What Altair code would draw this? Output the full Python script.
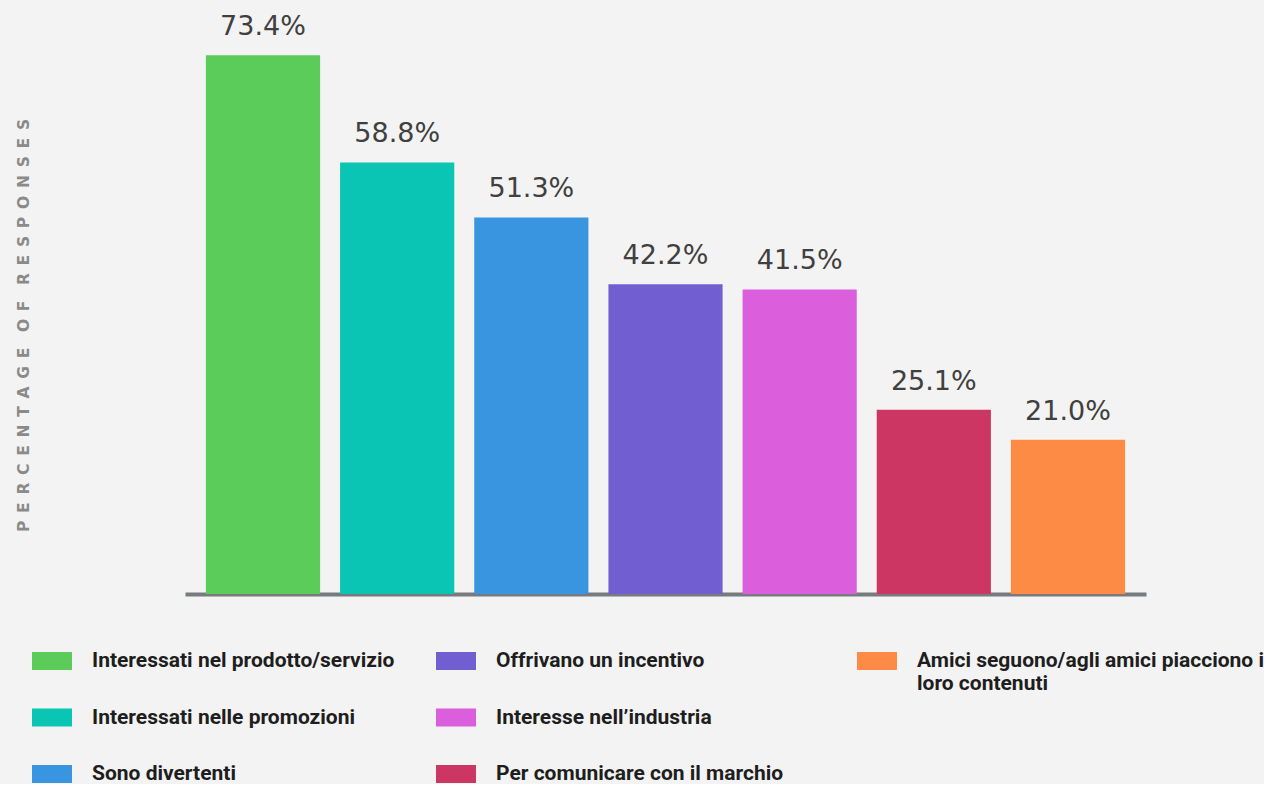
import altair as alt
import pandas as pd

# ---- data ----
categories = [
    "Interessati nel prodotto/servizio",
    "Interessati nelle promozioni",
    "Sono divertenti",
    "Offrivano un incentivo",
    "Interesse nell\u2019industria",
    "Per comunicare con il marchio",
    "Amici seguono/agli amici piacciono i loro contenuti",
]
values = [73.4, 58.8, 51.3, 42.2, 41.5, 25.1, 21.0]
colors = ["#5bcb5a", "#0bc5b4", "#3a95e0", "#715fd1", "#db5fdd", "#cc3663", "#fd8b45"]
legend_labels = [
    "Interessati nel prodotto/servizio",
    "Interessati nelle promozioni",
    "Sono divertenti",
    "Offrivano un incentivo",
    "Interesse nell\u2019industria",
    "Per comunicare con il marchio",
    "Amici seguono/agli amici piacciono i\nloro contenuti",
]
y_title = "PERCENTAGE OF RESPONSES"

bars_df = pd.DataFrame({"category": categories, "value": values})
legend_df = pd.DataFrame({
    "category": categories,
    "label": legend_labels,
    "col": [i // 3 for i in range(len(categories))],
    "row": [i % 3 for i in range(len(categories))],
})

# spaced-out title text (letter spacing)
spaced_title = "\u2002\u2002".join("\u2002".join(w) for w in y_title.split(" "))

color_scale = alt.Scale(domain=categories, range=colors)

base = alt.Chart(bars_df).encode(
    x=alt.X("category:N", sort=categories,
            scale=alt.Scale(paddingInner=0.149, paddingOuter=0.156),
            axis=alt.Axis(title=None, labels=False, ticks=False, domain=True,
                          domainColor="#777b7e", domainWidth=4, grid=False)),
    y=alt.Y("value:Q", scale=alt.Scale(domain=[0, 80.93], nice=False),
            axis=alt.Axis(title=spaced_title, labels=False, ticks=False, domain=False,
                          grid=False, titleAngle=-90, titleX=-162, titleY=325,
                          titleAlign="center", titleBaseline="middle",
                          titleFont="DejaVu Sans", titleFontSize=15.5,
                          titleFontWeight="bold", titleColor="#8a8a8a")),
)

bars = base.mark_bar(cornerRadius=0).encode(
    color=alt.Color("category:N", scale=color_scale, legend=None)
)
labels = base.transform_calculate(
    txt="format(datum.value, '.1f') + '%'"
).mark_text(baseline="alphabetic", dy=-20, font="DejaVu Sans", fontSize=27,
            color="#404040").encode(text="txt:N")

top = alt.layer(bars, labels).properties(width=961, height=594)

leg_base = alt.Chart(legend_df).encode(
    x=alt.X("col:Q", scale=alt.Scale(domain=[0, 1, 2], range=[-133, 271, 692]), axis=None),
    y=alt.Y("row:Q", scale=alt.Scale(domain=[0, 2], range=[57, 170]), axis=None),
)
swatches = leg_base.mark_point(shape="M-1,-0.45H1V0.45H-1Z", size=1600, filled=True,
                               opacity=1).encode(
    color=alt.Color("category:N", scale=color_scale, legend=None)
)
leg_text = leg_base.mark_text(align="left", baseline="top", dx=40, dy=-11,
                              font="Roboto", fontSize=21,
                              fontWeight="bold", color="#1e1e1e",
                              lineBreak="\n", lineHeight=23).encode(text="label:N")
legend = alt.layer(swatches, leg_text).properties(width=1070, height=179)

chart = alt.vconcat(top, legend, spacing=10).properties(
    background="#f3f3f3",
    padding={"left": 16, "top": 0, "right": 0, "bottom": 0},
).configure_view(stroke=None)

chart.save("out.html", embed_options={"renderer": "svg", "actions": False})
